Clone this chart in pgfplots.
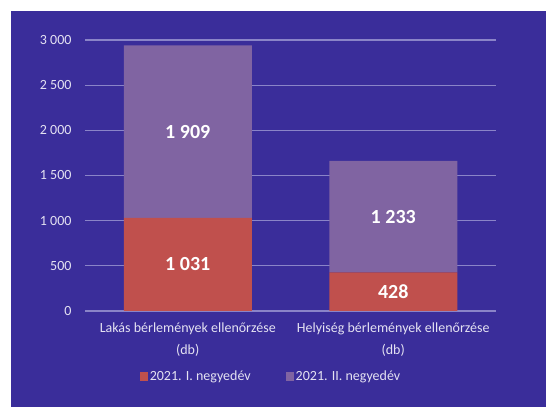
\documentclass[border=0pt]{standalone}
\usepackage{pgfplots}
\pgfplotsset{compat=1.18}
\usepackage{fontspec}
\setmainfont{Carlito}
\definecolor{bgblue}{HTML}{3A2D9A}
\definecolor{gridc}{HTML}{8A84C8}
\definecolor{txt}{HTML}{E4E2F2}
\definecolor{qone}{HTML}{C0504D}
\definecolor{qtwo}{HTML}{8064A2}
\begin{document}
\begin{tikzpicture}[barlbl/.style={text=white, font=\bfseries\fontsize{20bp}{24bp}\selectfont}]
\fill[white] (0,0) rectangle (546bp,407bp);
\fill[bgblue] (11bp,0) rectangle (546bp,396bp);
\begin{axis}[
  at={(85bp,96bp)}, anchor=south west,
  scale only axis, width=411bp, height=271bp,
  ybar stacked, bar width=128bp,
  xmin=-0.5, xmax=1.5, ymin=0, ymax=3000,
  xtick=data,
  xticklabels={{Lakás bérlemények ellenőrzése\\(db)},{Helyiség bérlemények ellenőrzése\\(db)}},
  ytick distance=500,
  /pgf/number format/assume math mode=true,
  /pgf/number format/1000 sep={\ },
  ymajorgrids, grid style={gridc, line width=1.3bp},
  axis line style={draw=none}, major tick length=0pt,
  tick label style={txt, font=\fontsize{14bp}{17bp}\selectfont},
  yticklabel style={anchor=east, xshift=-10bp},
  xticklabel style={align=center, anchor=north, yshift=-8bp,
    font=\fontsize{14bp}{22bp}\selectfont},
  legend style={at={(0.4526,-0.2417)}, anchor=center, draw=none, fill=none,
    text=txt, font=\fontsize{14bp}{17bp}\selectfont,
    /tikz/every even column/.append style={column sep=33bp}},
  legend columns=2,
  legend image code/.code={\fill[#1] (0bp,-4bp) rectangle (8bp,4bp);},
]
\addplot[fill=qone, draw=none] coordinates {(0,1031) (1,428)};
\addplot[fill=qtwo, draw=none] coordinates {(0,1909) (1,1233)};
\legend{2021. I. negyedév, 2021. II. negyedév}
% stacked bars are drawn last, so labels go on after the axis
\coordinate (l1) at (axis cs:0,515.5);
\coordinate (l2) at (axis cs:0,1985.5);
\coordinate (l3) at (axis cs:1,214);
\coordinate (l4) at (axis cs:1,1044.5);
\end{axis}
\node[barlbl] at (l1) {1 031};
\node[barlbl] at (l2) {1 909};
\node[barlbl] at (l3) {428};
\node[barlbl] at (l4) {1 233};
\pgfresetboundingbox
\useasboundingbox (0,0) rectangle (546bp,407bp);
\end{tikzpicture}
\end{document}
